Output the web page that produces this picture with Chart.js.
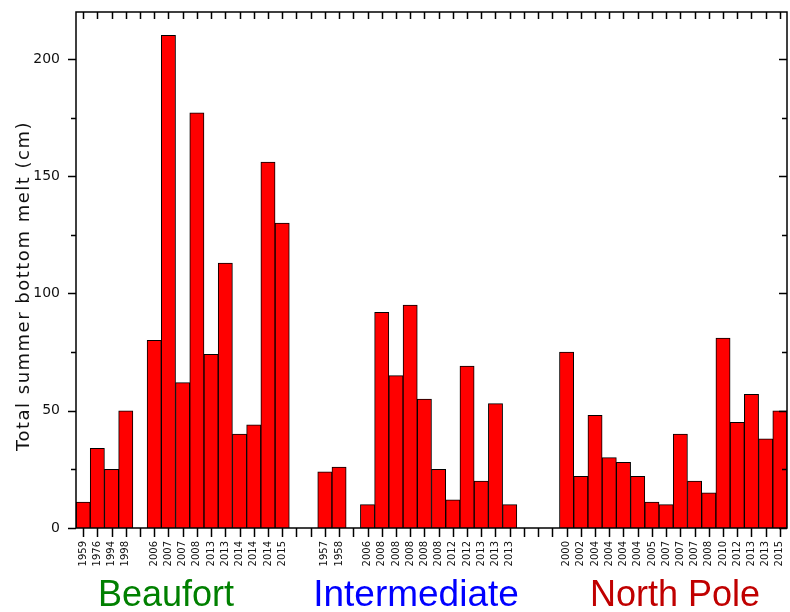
<!DOCTYPE html>
<html lang="en">
<head>
    <meta charset="UTF-8">
    <title>Total summer bottom melt</title>
    <script src="https://cdn.jsdelivr.net/npm/chart.js"></script>
    <style>
        body {
            margin: 0;
            background: #fff;
        }

        .wrap {
            position: relative;
            width: 790px;
            height: 612px;
        }

        .group {
            position: absolute;
            top: 574px;
            font-family: "Liberation Sans", Arial, sans-serif;
            font-size: 36px;
            line-height: 40px;
            white-space: nowrap;
            transform: translateX(-50%);
        }
    </style>
</head>
<body>
    <div class="wrap">
        <canvas id="meltChart" width="790" height="612"></canvas>
        <div class="group" style="left:166px; color:#008000;">Beaufort</div>
        <div class="group" style="left:416px; color:#0000ff; font-size:37px;">Intermediate</div>
        <div class="group" style="left:675px; color:#c00000;">North Pole</div>
    </div>

    <script>
        // empty strings / nulls are the gaps between groups of buoys
        const years = [
            '1959', '1976', '1994', '1998', '',
            '2006', '2007', '2007', '2008', '2013', '2013', '2014', '2014', '2014', '2015',
            '', '',
            '1957', '1958', '',
            '2006', '2008', '2008', '2008', '2008', '2008', '2012', '2012', '2013', '2013', '2013',
            '', '', '',
            '2000', '2002', '2004', '2004', '2004', '2004', '2005', '2007',
            '2007', '2007', '2008', '2010', '2012', '2013', '2013', '2015'
        ];

        const melt = [
            11, 34, 25, 50, null,
            80, 210, 62, 177, 74, 113, 40, 44, 156, 130,
            null, null,
            24, 26, null,
            10, 92, 65, 95, 55, 25, 12, 69, 20, 53, 10,
            null, null, null,
            75, 22, 48, 30, 28, 22, 11, 10,
            40, 20, 15, 81, 45, 57, 38, 50
        ];

        const yMax = 220;
        const yStep = 25;

        // frame with ticks: outward on left/bottom, inward on top/right
        const framePlugin = {
            id: 'frame',
            afterDraw(chart) {
                const ctx = chart.ctx;
                const a = chart.chartArea;
                const x = chart.scales.x;
                const y = chart.scales.y;
                ctx.save();
                ctx.strokeStyle = '#000';
                ctx.lineWidth = 1.5;
                ctx.strokeRect(a.left, a.top, a.right - a.left, a.bottom - a.top);

                ctx.beginPath();
                for (let v = 0; v <= yMax; v += yStep) {
                    const py = Math.round(y.getPixelForValue(v)) + 0.5;
                    const len = v % 50 === 0 ? 8 : 5;
                    ctx.moveTo(a.left - len, py);
                    ctx.lineTo(a.left, py);
                    ctx.moveTo(a.right, py);
                    ctx.lineTo(a.right - len, py);
                }
                for (let i = 0; i < years.length; i++) {
                    const px = Math.round(x.getPixelForValue(i)) + 0.5;
                    ctx.moveTo(px, a.bottom);
                    ctx.lineTo(px, a.bottom + 9);
                    ctx.moveTo(px, a.top);
                    ctx.lineTo(px, a.top + 7);
                }
                ctx.stroke();

                // y axis title
                ctx.translate(24, 286);
                ctx.rotate(-Math.PI / 2);
                ctx.font = '18px "DejaVu Sans"';
                ctx.letterSpacing = '1.5px';
                ctx.fillStyle = '#111';
                ctx.textAlign = 'center';
                ctx.textBaseline = 'middle';
                ctx.fillText('Total summer bottom melt (cm)', 0, 0);
                ctx.restore();
            }
        };

        const ctx = document.getElementById('meltChart').getContext('2d');
        new Chart(ctx, {
            type: 'bar',
            data: {
                labels: years,
                datasets: [{
                    data: melt,
                    backgroundColor: '#ff0000',
                    borderColor: '#000',
                    borderWidth: 1,
                    categoryPercentage: 1.0,
                    barPercentage: 1.0
                }]
            },
            options: {
                responsive: false,
                animation: false,
                layout: {
                    padding: { top: 12, right: 3, left: 0, bottom: 0 }
                },
                plugins: {
                    legend: { display: false },
                    tooltip: { enabled: false }
                },
                scales: {
                    x: {
                        grid: { display: false, drawTicks: false },
                        border: { display: false },
                        ticks: {
                            autoSkip: false,
                            minRotation: 90,
                            maxRotation: 90,
                            padding: 13,
                            color: '#111',
                            font: { family: 'DejaVu Sans', size: 10 }
                        },
                        afterFit(scale) {
                            scale.height = 84;
                            scale.paddingLeft = 0;
                            scale.paddingRight = 0;
                        }
                    },
                    y: {
                        min: 0,
                        max: yMax,
                        grid: { display: false, drawTicks: false },
                        border: { display: false },
                        ticks: {
                            stepSize: yStep,
                            padding: 16,
                            color: '#111',
                            font: { family: 'DejaVu Sans', size: 14 },
                            callback: v => (v % 50 === 0 ? v : '')
                        },
                        afterFit(scale) {
                            scale.width = 76;
                            scale.paddingTop = 0;
                            scale.paddingBottom = 0;
                        }
                    }
                }
            },
            plugins: [framePlugin]
        });
    </script>
</body>
</html>
